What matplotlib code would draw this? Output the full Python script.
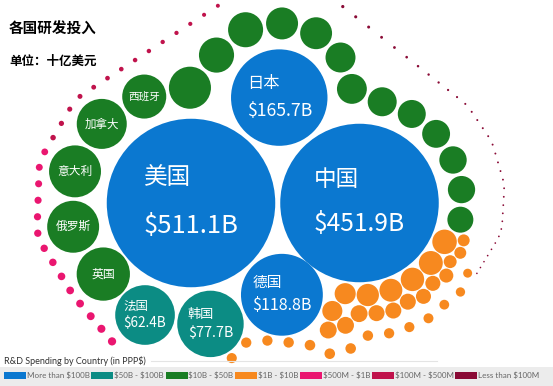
import math
import numpy as np
import matplotlib
matplotlib.use("Agg")
import matplotlib.pyplot as plt
from matplotlib.patches import Circle, Rectangle

plt.rcParams["font.family"] = ["Noto Sans CJK SC", "DejaVu Sans"]

W, H = 553, 386

# R&D spending, billions of PPP$
core_names = ["美国", "中国", "日本", "德国", "韩国", "法国"]
core_values = [511.1, 451.9, 165.7, 118.8, 77.7, 62.4]

green_names = ["英国", "俄罗斯", "意大利", "加拿大", "西班牙"]
green_values = [49.5, 47.0, 47.0, 43.5, 33.5, 30.5, 21.0, 20.9, 17.3, 17.2,
                15.1, 15.0, 14.1, 13.1, 13.0, 12.5, 12.4, 11.2]

orange_inner = [9.9, 9.4, 9.0, 8.6, 8.1, 7.2, 6.5]
orange_middle = [2.1, 2.1, 2.5, 3.0, 3.5, 3.5, 4.0, 4.0, 4.0, 4.5, 4.5, 4.5]
orange_outer = [1.1, 1.2, 1.35, 1.4, 1.45, 1.5, 1.55, 1.6, 1.6, 1.6, 1.55, 1.5, 1.5, 1.45]

pink_values = [0.9, 0.86, 0.82, 0.8, 0.78, 0.75, 0.72, 0.7, 0.68, 0.66, 0.64, 0.62, 0.6, 0.57]
crimson_values = [0.34, 0.3, 0.28, 0.26, 0.24, 0.22, 0.21, 0.2, 0.19, 0.18, 0.17, 0.16,
                  0.15, 0.14, 0.13, 0.12, 0.11]
dark_values = [0.095, 0.09, 0.085, 0.08, 0.075, 0.065, 0.058, 0.05, 0.044, 0.038, 0.03,
               0.026, 0.022, 0.019, 0.016, 0.013, 0.012, 0.011, 0.011, 0.01, 0.01, 0.009,
               0.009, 0.008, 0.008, 0.007, 0.007, 0.006, 0.006, 0.005, 0.005, 0.005, 0.004,
               0.004, 0.004, 0.003, 0.003, 0.003]

bin_floor = [100, 50, 10, 1, 0.5, 0.1, 0]
bin_colors = ["#0b78d0", "#0c8c84", "#1a7d24", "#f7891f", "#ea1670", "#c0134c", "#8a0b36"]
bin_labels = ["More than $100B", "$50B - $100B", "$10B - $50B", "$1B - $10B",
              "$500M - $1B", "$100M - $500M", "Less than $100M"]

K = 3.7


def radius(v):
    return K * math.sqrt(v) + 0.6


def color_of(v):
    for floor, col in zip(bin_floor, bin_colors):
        if v > floor:
            return col
    return bin_colors[-1]


GAPS = {("core", "core"): 5, ("ring", "core"): 10, ("ring", "ring"): 3.5,
        ("orange", "core"): 2, ("orange", "ring"): 2, ("orange", "orange"): 1,
        ("outer", "core"): 2, ("outer", "ring"): 10, ("outer", "orange"): 10,
        ("outer", "outer"): 11}


def gap(a, b):
    return GAPS.get((a, b), GAPS.get((b, a)))


def tangent_spots(a, b, r, ga, gb):
    da = a[2] + r + ga
    db = b[2] + r + gb
    dx, dy = b[0] - a[0], b[1] - a[1]
    D = math.hypot(dx, dy)
    if D == 0 or D > da + db or D < abs(da - db):
        return []
    t = (da * da - db * db + D * D) / (2 * D)
    h = math.sqrt(max(da * da - t * t, 0))
    ux, uy = dx / D, dy / D
    bx, by = a[0] + t * ux, a[1] + t * uy
    return [(bx - h * uy, by + h * ux), (bx + h * uy, by - h * ux)]


def is_free(x, y, r, group, placed):
    for q in placed:
        if math.hypot(x - q[0], y - q[1]) < r + q[2] + gap(group, q[3]) - 0.05:
            return False
    return True


def roll(prev, r, group, placed, center):
    # next circle: tangent to prev and to one placed circle, hugging inwards
    th0 = math.atan2(center[1] - prev[1], center[0] - prev[0])
    best = None
    for q in placed:
        if q is prev:
            continue
        for x, y in tangent_spots(prev, q, r, gap(group, prev[3]), gap(group, q[3])):
            if not is_free(x, y, r, group, placed):
                continue
            d = (th0 - math.atan2(y - prev[1], x - prev[0])) % (2 * math.pi)
            if best is None or d < best[0]:
                best = (d, x, y)
    return [best[1], best[2], r, group]


def far_spot(a, b, r, group, center, g=None):
    ga = gap(group, a[3]) if g is None else g
    gb = gap(group, b[3]) if g is None else g
    spots = tangent_spots(a, b, r, ga, gb)
    x, y = max(spots, key=lambda p: math.hypot(p[0] - center[0], p[1] - center[1]))
    return [x, y, r, group]


def chain(first, values, group, placed, center):
    row = [first]
    placed.append(first)
    for v in values:
        c = roll(row[-1], radius(v), group, placed, center)
        row.append(c)
        placed.append(c)
    return row


# ---- core cluster: each circle tangent to two earlier ones ----
rc = [radius(v) for v in core_values]
us = [191, 203, rc[0], "core"]
cn = [us[0] + rc[0] + rc[1] + 5, us[1], rc[1], "core"]
jp = [*min(tangent_spots(us, cn, rc[2], 5, 5), key=lambda p: p[1]), rc[2], "core"]
de = [*max(tangent_spots(us, cn, rc[3], 4, 0), key=lambda p: p[1]), rc[3], "core"]
kr = [*min(tangent_spots(us, de, rc[4], 5, 3), key=lambda p: p[0]), rc[4], "core"]
fr = [*min(tangent_spots(us, kr, rc[5], 7, 3), key=lambda p: p[0]), rc[5], "core"]
core = [us, cn, jp, de, kr, fr]

area = sum(c[2] ** 2 for c in core)
center = (sum(c[0] * c[2] ** 2 for c in core) / area,
          sum(c[1] * c[2] ** 2 for c in core) / area)

placed = list(core)

green = chain(far_spot(us, fr, radius(green_values[0]), "ring", center, g=2),
              green_values[1:], "ring", placed, center)
first_inner = roll(green[-1], radius(orange_inner[0]), "orange", placed, center)
inner = chain(first_inner, orange_inner[1:], "orange", placed, center)
middle = chain(far_spot(green[-1], inner[0], radius(orange_middle[0]), "orange", center),
               orange_middle[1:], "orange", placed, center)
outer = chain(far_spot(middle[2], middle[3], radius(orange_outer[0]), "outer", center),
              orange_outer[1:], "outer", placed, center)


# ---- dotted outline along the offset hull of everything inside it ----
def margin(c):
    if c[3] == "orange":
        return 18
    return 10 + 19 * min(max((c[0] - 100) / 357, 0), 1)


def convex_hull(points):
    pts = sorted(set(points))

    def cross(o, a, b):
        return (a[0] - o[0]) * (b[1] - o[1]) - (a[1] - o[1]) * (b[0] - o[0])

    lower, upper = [], []
    for p in pts:
        while len(lower) >= 2 and cross(lower[-2], lower[-1], p) <= 0:
            lower.pop()
        lower.append(p)
    for p in reversed(pts):
        while len(upper) >= 2 and cross(upper[-2], upper[-1], p) <= 0:
            upper.pop()
        upper.append(p)
    return lower[:-1] + upper[:-1]


samples = []
for c in core + green + inner + middle:
    R = c[2] + margin(c)
    for a in np.linspace(0, 2 * np.pi, 180, endpoint=False):
        samples.append((round(c[0] + R * math.cos(a), 3), round(c[1] + R * math.sin(a), 3)))
hull = convex_hull(samples)

dense = []
for i in range(len(hull)):
    p, q = hull[i], hull[(i + 1) % len(hull)]
    n = max(int(math.hypot(q[0] - p[0], q[1] - p[1])), 1)
    for t in np.linspace(0, 1, n, endpoint=False):
        dense.append((p[0] + t * (q[0] - p[0]), p[1] + t * (q[1] - p[1])))

start = math.radians(139)
dense.sort(key=lambda p: (math.atan2(p[1] - center[1], p[0] - center[0]) - start) % (2 * math.pi))
dx_ = np.array([p[0] for p in dense])
dy_ = np.array([p[1] for p in dense])
arc = np.concatenate([[0], np.cumsum(np.hypot(np.diff(dx_), np.diff(dy_)))])

dot_values = pink_values + crimson_values + dark_values
dots = []
s = 0.0
for i, v in enumerate(dot_values):
    r = radius(v)
    if i > 0:
        s += min(16.5, 8 * (r + dots[-1][2]) - 6)
    dots.append([float(np.interp(s, arc, dx_)), float(np.interp(s, arc, dy_)), r, v])

# ---- draw ----
fig = plt.figure(figsize=(W / 100, H / 100), dpi=100)
ax = fig.add_axes([0, 0, 1, 1])
ax.set_xlim(0, W)
ax.set_ylim(H, 0)
ax.axis("off")

all_circles = list(zip(core, core_values)) + list(zip(green, green_values)) \
    + list(zip(inner, orange_inner)) + list(zip(middle, orange_middle)) \
    + list(zip(outer, orange_outer))
for c, v in all_circles:
    ax.add_patch(Circle((c[0], c[1]), c[2], facecolor=color_of(v), edgecolor="none"))
for x, y, r, v in dots:
    ax.add_patch(Circle((x, y), r, facecolor=color_of(v), edgecolor="none"))

fig.canvas.draw()
renderer = fig.canvas.get_renderer()

for c, name, v in zip(core, core_names, core_values):
    fs = 5 + 0.16 * c[2]
    val = ax.text(c[0], c[1] + 0.27 * c[2], f"\\${v:.1f}B", color="white", fontsize=fs,
                  ha="center", va="center")
    left = val.get_window_extent(renderer).x0
    ax.text(left, c[1] - 0.3 * c[2], name, color="white", fontsize=fs * 0.92,
            ha="left", va="center")

for c, name in zip(green, green_names):
    ax.text(c[0], c[1], name, color="white", fontsize=3 + 0.21 * c[2], ha="center", va="center")

ax.text(9, 29, "各国研发投入", fontsize=10.5, fontweight="bold", ha="left", va="center")
ax.text(9, 61, "单位：十亿美元", fontsize=9, fontweight="bold", ha="left", va="center")

ttl = ax.text(4, 361, "R&D Spending by Country (in PPP\\$)", fontsize=6.5, color="#333333",
              family=["Lato", "DejaVu Sans"], ha="left", va="center")
x_end = ttl.get_window_extent(renderer).x1
ax.plot([x_end + 5, 437], [361, 361], color="#e4e4e4", lw=0.8)
ax.add_patch(Rectangle((0, 367), W, H - 367, facecolor="#ececec", edgecolor="none", zorder=0))

x = 4
for col, lab in zip(bin_colors, bin_labels):
    ax.add_patch(Rectangle((x, 371.5), 22, 7, facecolor=col, edgecolor="none"))
    t = ax.text(x + 23, 375.5, lab.replace("$", "\\$"), fontsize=5.8, color="#666666",
                family=["Lato", "DejaVu Sans"], ha="left", va="center")
    x = t.get_window_extent(renderer).x1 + 1.5

fig.savefig("out.png", dpi=100)
